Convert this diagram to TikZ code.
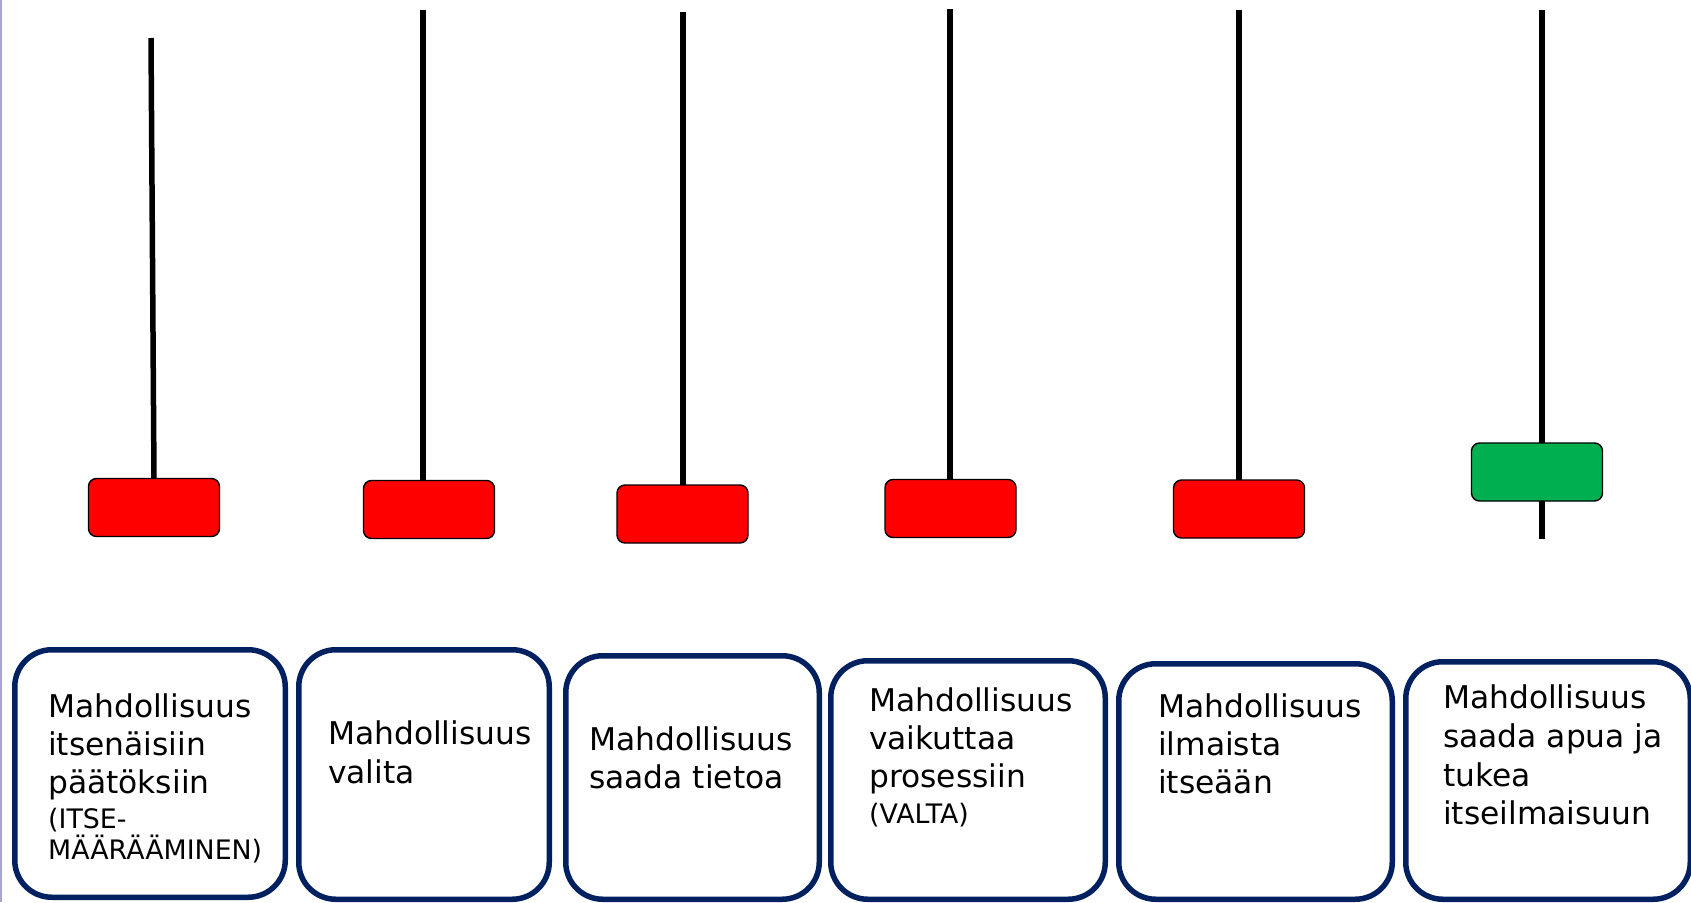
\documentclass[tikz,border=0pt]{standalone}
\usepackage{fontspec}
\setmainfont{DejaVu Sans}
\definecolor{navy}{RGB}{0,32,96}
\definecolor{pgreen}{RGB}{0,176,80}
\definecolor{edgeline}{RGB}{165,165,210}
\begin{document}
\begin{tikzpicture}[x=1pt,y=-1pt,
  stick/.style={line width=5.5pt,black},
  knob/.style={draw=black,line width=1.4pt,rounded corners=8pt,minimum width=131pt,minimum height=58pt,inner sep=0pt},
  card/.style={draw=navy,line width=5.5pt,rounded corners=37pt,fill=white,inner sep=0pt},
  big/.style={font=\fontsize{31.3}{38}\selectfont,anchor=base west,inner sep=0pt},
  small/.style={font=\fontsize{26.8}{31}\selectfont,anchor=base west,inner sep=0pt}]
\useasboundingbox (0,0) rectangle (1691,902);
\fill[white] (0,0) rectangle (1691,902);
\draw[edgeline,line width=1.5pt] (0.75,0) -- (0.75,902);

% stick ends
\coordinate (t1) at (151,38);  \coordinate (e1) at (154,479);
\coordinate (t2) at (423,10);  \coordinate (e2) at (423,481);
\coordinate (t3) at (683,12);  \coordinate (e3) at (683,485);
\coordinate (t4) at (950,9);   \coordinate (e4) at (950,480);
\coordinate (t5) at (1239,10); \coordinate (e5) at (1239,480);
\coordinate (t6) at (1542,10); \coordinate (e6) at (1542,539);
\foreach \i in {1,...,6} {\draw[stick] (t\i) -- (e\i);}

% knobs
\node[knob,fill=red]    (r1) at (154,507.5) {};
\node[knob,fill=red]    (r2) at (429,509.5) {};
\node[knob,fill=red]    (r3) at (682.5,514) {};
\node[knob,fill=red]    (r4) at (950.5,508.5) {};
\node[knob,fill=red]    (r5) at (1239,509) {};
\node[knob,fill=pgreen] (r6) at (1537,472) {};

% cards
\node[card,minimum width=270.5pt,minimum height=247.5pt] (c1) at (150,773.5) {};
\node[card,minimum width=250.5pt,minimum height=249.5pt] (c2) at (424,774.5) {};
\node[card,minimum width=253.5pt,minimum height=243.5pt] (c3) at (692.5,777.5) {};
\node[card,minimum width=274.5pt,minimum height=238.5pt] (c4) at (968,780) {};
\node[card,minimum width=273.5pt,minimum height=235.5pt] (c5) at (1255.5,781.5) {};
\node[card,minimum width=284.5pt,minimum height=237.5pt] (c6) at (1548,780.5) {};

% card texts
\node[big]   (c1a) at (48,717) {Mahdollisuus};
\node[big]   (c1b) at (48,755) {itsenäisiin};
\node[big]   (c1c) at (48,793) {päätöksiin};
\node[small] (c1d) at (48,828) {(ITSE-};
\node[small] (c1e) at (48,859) {MÄÄRÄÄMINEN)};

\node[big] (c2a) at (328,744) {Mahdollisuus};
\node[big] (c2b) at (328,783) {valita};

\node[big] (c3a) at (589,750) {Mahdollisuus};
\node[big] (c3b) at (589,788) {saada tietoa};

\node[big]   (c4a) at (869,711) {Mahdollisuus};
\node[big]   (c4b) at (869,749) {vaikuttaa};
\node[big]   (c4c) at (869,787) {prosessiin};
\node[small] (c4d) at (869,823) {(VALTA)};

\node[big] (c5a) at (1158,717) {Mahdollisuus};
\node[big] (c5b) at (1158,755) {ilmaista};
\node[big] (c5c) at (1158,793) {itseään};

\node[big] (c6a) at (1443,708) {Mahdollisuus};
\node[big] (c6b) at (1443,747) {saada apua ja};
\node[big] (c6c) at (1443,786) {tukea};
\node[big] (c6d) at (1443,824) {itseilmaisuun};
\end{tikzpicture}
\end{document}
